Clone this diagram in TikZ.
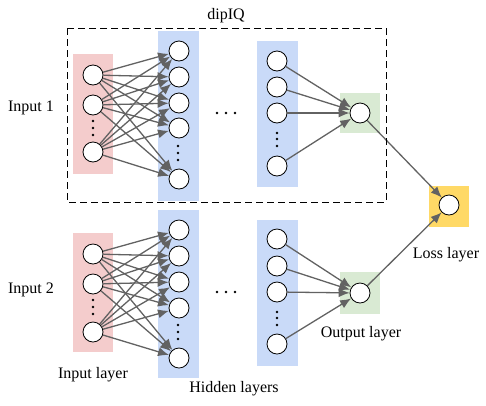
\documentclass[tikz,border=0pt]{standalone}
\usepackage{fontspec}
\setmainfont{Liberation Serif}
\usetikzlibrary{arrows.meta}
\definecolor{inpink}{HTML}{F4CCCC}
\definecolor{hidblue}{HTML}{C9DAF8}
\definecolor{outgreen}{HTML}{D9EAD3}
\definecolor{lossyellow}{HTML}{FFD966}
\definecolor{linkgray}{HTML}{626262}
\tikzset{neuron/.style={circle, draw=black, fill=white, line width=0.8pt, minimum size=20pt, inner sep=0pt},
         link/.style={draw=linkgray, line width=1.3pt, -{Latex[length=11pt,width=9pt]}},
         lbl/.style={font=\fontsize{16}{19}\selectfont, inner sep=0pt}}

\begin{document}
\begin{tikzpicture}[x=1pt,y=-1pt]
   \useasboundingbox (0,0) rectangle (486,405);
   % loss layer
   \fill[lossyellow] (429,186) rectangle (469,227);
   \node[neuron] (loss) at (449,205) {};
   \begin{scope}
    \fill[inpink]   (73, 54) rectangle (113,174);
    \fill[hidblue]  (158,31) rectangle (199,201);
    \fill[hidblue]  (257,41) rectangle (298,187);
    \fill[outgreen] (340,93) rectangle (380,133);
    \node[neuron] (i1) at (93, 75) {};
    \node[neuron] (i2) at (93,105) {};
    \node[neuron] (i3) at (93,152) {};
    \node[neuron] (h1) at (179, 51) {};
    \node[neuron] (h2) at (179, 77) {};
    \node[neuron] (h3) at (179,103) {};
    \node[neuron] (h4) at (179,128) {};
    \node[neuron] (h5) at (179,179) {};
    \node[neuron] (g1) at (277, 61) {};
    \node[neuron] (g2) at (277, 87) {};
    \node[neuron] (g3) at (277,113) {};
    \node[neuron] (g4) at (277,166) {};
    \node[neuron] (o)  at (360,113) {};
    \foreach \i in {1,2,3} \foreach \j in {1,...,5} \draw[link] (i\i) -- (h\j);
    \foreach \j in {1,...,4} \draw[link] (g\j) -- (o);
    \draw[link] (o) -- (loss);
    \foreach \y in {121,128,135} \fill (93,\y) circle (1.4pt);
    \foreach \y in {146,153,160} \fill (178,\y) circle (1.4pt);
    \foreach \y in {133,139,146} \fill (277,\y) circle (1.4pt);
    \foreach \x in {217,226,235} \fill (\x,113) circle (1.3pt);
   \end{scope}
   \begin{scope}[yshift=-179pt]
    \fill[inpink]   (73, 54) rectangle (113,173);
    \fill[hidblue]  (158,31) rectangle (199,199);
    \fill[hidblue]  (257,41) rectangle (298,187);
    \fill[outgreen] (340,93) rectangle (380,135);
    \node[neuron] (i1) at (93, 75) {};
    \node[neuron] (i2) at (93,105) {};
    \node[neuron] (i3) at (93,153) {};
    \node[neuron] (h1) at (179, 51) {};
    \node[neuron] (h2) at (179, 77) {};
    \node[neuron] (h3) at (179,103) {};
    \node[neuron] (h4) at (179,129) {};
    \node[neuron] (h5) at (179,179) {};
    \node[neuron] (g1) at (277, 60) {};
    \node[neuron] (g2) at (277, 87) {};
    \node[neuron] (g3) at (277,113) {};
    \node[neuron] (g4) at (277,165) {};
    \node[neuron] (o)  at (360,114) {};
    \foreach \i in {1,2,3} \foreach \j in {1,...,5} \draw[link] (i\i) -- (h\j);
    \foreach \j in {1,...,4} \draw[link] (g\j) -- (o);
    \draw[link] (o) -- (loss);
    \foreach \y in {121,128,135} \fill (93,\y) circle (1.4pt);
    \foreach \y in {146,153,160} \fill (178,\y) circle (1.4pt);
    \foreach \y in {133,139,146} \fill (277,\y) circle (1.4pt);
    \foreach \x in {217,226,235} \fill (\x,113) circle (1.3pt);
   \end{scope}
   % dipIQ box
   \draw[dash pattern=on 7pt off 4pt, line width=0.8pt] (67,28) rectangle (386,202);
   \node[lbl] (dip)  at (226,16)  {dipIQ};
   \node[lbl] (in1)  at (31,108)  {Input 1};
   \node[lbl] (in2)  at (31,290)  {Input 2};
   \node[lbl] (inl)  at (93,375)  {Input layer};
   \node[lbl] (hidl) at (234,389) {Hidden layers};
   \node[lbl] (outl) at (361,334) {Output layer};
   \node[lbl] (lossl) at (446,255) {Loss layer};
\end{tikzpicture}
\end{document}
